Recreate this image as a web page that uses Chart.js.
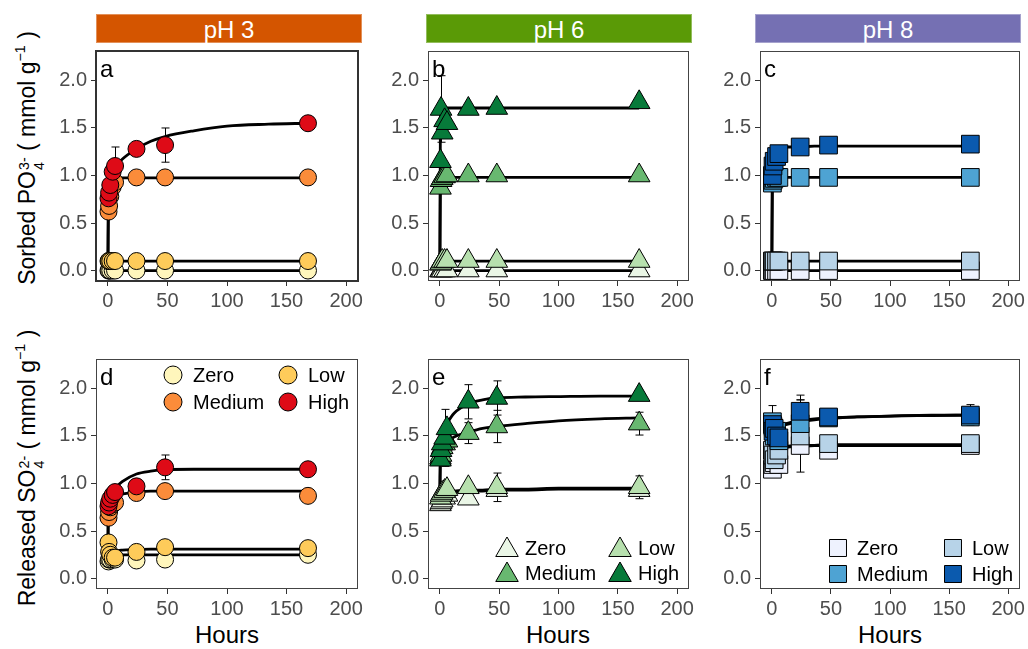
<!DOCTYPE html>
<html><head><meta charset="utf-8">
<script src="https://cdn.jsdelivr.net/npm/chart.js@4.4.1/dist/chart.umd.min.js"></script>
<style>
body{margin:0;background:#fff;}
#wrap{position:relative;width:1028px;height:649px;overflow:hidden;background:#fff;font-family:"Liberation Sans",Arial,sans-serif;}
.strip{position:absolute;top:14px;height:29px;color:#fff;font-size:24px;line-height:29px;text-align:center;box-sizing:border-box;border:1px solid rgba(255,255,255,0.35);}
canvas{position:absolute;}
.ytitle{position:absolute;font-size:23px;white-space:nowrap;transform:translate(-50%,-50%) rotate(-90deg);color:#000;}
.xtitle{position:absolute;font-size:24px;transform:translateX(-50%);color:#000;white-space:nowrap;}
.ss{display:inline-flex;flex-direction:column;font-size:0.62em;line-height:1.05;vertical-align:0.42em;margin-left:1px;}
.sp{font-size:0.62em;vertical-align:0.7em;}
</style>
</head><body>
<div id="wrap">
  <div class="strip" style="left:96px;width:266px;background:#D45500;">pH 3</div>
  <div class="strip" style="left:426px;width:266px;background:#5A9A06;">pH 6</div>
  <div class="strip" style="left:755px;width:266px;background:#7570B3;">pH 8</div>
  <div class="ytitle" style="left:29px;top:158px;">Sorbed PO<span class="ss"><span>3-</span><span>4</span></span> ( mmol g<span class="sp">−1</span> )</div>
  <div class="ytitle" style="left:29px;top:468px;">Released SO<span class="ss"><span>2-</span><span>4</span></span> ( mmol g<span class="sp">−1</span> )</div>
  <div class="xtitle" style="left:227px;top:621px;">Hours</div>
  <div class="xtitle" style="left:558px;top:621px;">Hours</div>
  <div class="xtitle" style="left:890px;top:621px;">Hours</div>
</div>
<script>
// ---------- data ----------
const levels = ['Zero', 'Low', 'Medium', 'High'];
const hours = [0.5, 1, 2, 4, 6, 24, 48, 168];
const curveHours = [0, 0.5, 1, 2, 4, 6, 12, 24, 36, 48, 72, 100, 135, 168];
const xTicks = [0, 50, 100, 150, 200];
const yTicks = [0, 0.5, 1, 1.5, 2];

// (a) sorbed PO4, pH 3
const aZero = [0, 0, 0, 0, 0, 0, 0, 0];
const aLow = [0.1, 0.1, 0.1, 0.1, 0.1, 0.1, 0.1, 0.1];
const aMedium = [0.62, 0.68, 0.78, 0.88, 0.93, 0.98, 0.98, 0.98];
const aHigh = [0.76, 0.82, 0.9, 1.04, 1.1, 1.28, 1.32, 1.55];
const aHighErr = [0, 0, 0, 0, 0.2, 0, 0.18, 0];
const aZeroFit = [0, 0, 0, 0, 0, 0, 0, 0, 0, 0, 0, 0, 0, 0];
const aLowFit = [0, 0.1, 0.1, 0.1, 0.1, 0.1, 0.1, 0.1, 0.1, 0.1, 0.1, 0.1, 0.1, 0.1];
const aMediumFit = [0, 0.9, 0.94, 0.96, 0.97, 0.975, 0.975, 0.975, 0.975, 0.975, 0.975, 0.975, 0.975, 0.975];
const aHighFit = [0, 0.85, 0.92, 0.98, 1.04, 1.08, 1.17, 1.28, 1.36, 1.41, 1.47, 1.52, 1.54, 1.55];

// (b) sorbed PO4, pH 6
const bZero = [0, 0, 0, 0, 0, 0, 0, 0];
const bLow = [0.07, 0.08, 0.1, 0.1, 0.1, 0.1, 0.1, 0.1];
const bMedium = [0.87, 0.95, 0.97, 0.99, 1.0, 1.0, 1.0, 1.0];
const bHigh = [1.15, 1.7, 1.45, 1.58, 1.55, 1.7, 1.71, 1.77];
const bHighErr = [0, 0.35, 0, 0, 0, 0.03, 0, 0];
const bZeroFit = [0, 0, 0, 0, 0, 0, 0, 0, 0, 0, 0, 0, 0, 0];
const bLowFit = [0, 0.1, 0.1, 0.1, 0.1, 0.1, 0.1, 0.1, 0.1, 0.1, 0.1, 0.1, 0.1, 0.1];
const bMediumFit = [0, 0.97, 0.98, 0.98, 0.98, 0.98, 0.98, 0.98, 0.98, 0.98, 0.98, 0.98, 0.98, 0.98];
const bHighFit = [0, 1.68, 1.7, 1.71, 1.71, 1.71, 1.71, 1.71, 1.71, 1.71, 1.71, 1.71, 1.71, 1.71];

// (c) sorbed PO4, pH 8
const cZero = [0, 0, 0, 0, 0, 0, 0, 0];
const cLow = [0.1, 0.1, 0.1, 0.1, 0.1, 0.1, 0.1, 0.1];
const cMedium = [0.92, 0.95, 0.97, 0.98, 0.98, 0.98, 0.98, 0.98];
const cHigh = [1.0, 1.1, 1.15, 1.2, 1.23, 1.3, 1.32, 1.33];
const cHighErr = [0, 0, 0, 0, 0, 0, 0, 0.07];
const cZeroFit = [0, 0, 0, 0, 0, 0, 0, 0, 0, 0, 0, 0, 0, 0];
const cLowFit = [0, 0.1, 0.1, 0.1, 0.1, 0.1, 0.1, 0.1, 0.1, 0.1, 0.1, 0.1, 0.1, 0.1];
const cMediumFit = [0, 0.96, 0.97, 0.98, 0.98, 0.98, 0.98, 0.98, 0.98, 0.98, 0.98, 0.98, 0.98, 0.98];
const cHighFit = [0, 1.2, 1.23, 1.26, 1.28, 1.29, 1.3, 1.3, 1.31, 1.31, 1.31, 1.31, 1.31, 1.31];

// (d) released SO4, pH 3
const dZero = [0.18, 0.2, 0.2, 0.2, 0.2, 0.19, 0.2, 0.25];
const dLow = [0.38, 0.28, 0.25, 0.22, 0.22, 0.28, 0.33, 0.32];
const dMedium = [0.64, 0.7, 0.75, 0.78, 0.8, 0.9, 0.92, 0.87];
const dHigh = [0.76, 0.8, 0.84, 0.88, 0.91, 0.97, 1.17, 1.15];
const dHighErr = [0, 0, 0, 0, 0, 0, 0.13, 0];
const dZeroFit = [0.2, 0.22, 0.23, 0.24, 0.245, 0.25, 0.25, 0.25, 0.25, 0.25, 0.25, 0.25, 0.25, 0.25];
const dLowFit = [0.22, 0.25, 0.26, 0.27, 0.28, 0.29, 0.3, 0.305, 0.31, 0.31, 0.31, 0.31, 0.31, 0.31];
const dMediumFit = [0.3, 0.8, 0.82, 0.84, 0.86, 0.87, 0.89, 0.91, 0.92, 0.92, 0.92, 0.92, 0.92, 0.92];
const dHighFit = [0.3, 0.84, 0.86, 0.88, 0.92, 0.95, 1.02, 1.1, 1.13, 1.145, 1.15, 1.15, 1.15, 1.15];

// (e) released SO4, pH 6
const eZero = [0.78, 0.8, 0.82, 0.85, 0.88, 0.84, 0.93, 0.93];
const eLow = [0.85, 0.88, 0.9, 0.92, 0.94, 0.96, 0.96, 0.96];
const eLowErr = [0, 0, 0, 0, 0, 0, 0.15, 0.12];
const eMedium = [1.27, 1.3, 1.38, 1.42, 1.45, 1.53, 1.6, 1.63];
const eMediumErr = [0, 0, 0, 0, 0, 0.11, 0.17, 0.12];
const eHigh = [1.25, 1.35, 1.42, 1.48, 1.58, 1.86, 1.9, 1.93];
const eHighErr = [0, 0, 0, 0.3, 0, 0.18, 0.18, 0];
const eZeroFit = [0.8, 0.86, 0.88, 0.89, 0.9, 0.9, 0.91, 0.92, 0.92, 0.93, 0.93, 0.94, 0.94, 0.94];
const eLowFit = [0.85, 0.88, 0.89, 0.9, 0.91, 0.91, 0.92, 0.93, 0.93, 0.94, 0.94, 0.95, 0.95, 0.95];
const eMediumFit = [0.9, 1.3, 1.33, 1.37, 1.41, 1.44, 1.49, 1.54, 1.58, 1.6, 1.63, 1.66, 1.68, 1.69];
const eHighFit = [0.9, 1.35, 1.42, 1.5, 1.58, 1.63, 1.74, 1.84, 1.88, 1.9, 1.91, 1.915, 1.92, 1.92];

// (f) released SO4, pH 8
const fZero = [1.15, 1.2, 1.22, 1.25, 1.2, 1.4, 1.35, 1.4];
const fLow = [1.35, 1.3, 1.25, 1.3, 1.35, 1.5, 1.42, 1.42];
const fLowErr = [0, 0, 0, 0, 0, 0.38, 0, 0];
const fMedium = [1.65, 1.6, 1.5, 1.55, 1.45, 1.63, 1.69, 1.7];
const fMediumErr = [0, 0, 0, 0, 0, 0.25, 0, 0];
const fHigh = [1.62, 1.55, 1.58, 1.5, 1.48, 1.76, 1.7, 1.72];
const fHighErr = [0.2, 0, 0, 0, 0, 0.17, 0, 0.11];
const fZeroFit = [1.25, 1.33, 1.35, 1.36, 1.37, 1.37, 1.38, 1.39, 1.4, 1.4, 1.4, 1.4, 1.4, 1.4];
const fLowFit = [1.3, 1.35, 1.36, 1.37, 1.37, 1.38, 1.39, 1.4, 1.4, 1.41, 1.41, 1.41, 1.41, 1.41];
const fMediumFit = [1.45, 1.55, 1.56, 1.57, 1.58, 1.6, 1.62, 1.65, 1.67, 1.685, 1.7, 1.71, 1.715, 1.72];
const fHighFit = [1.5, 1.56, 1.57, 1.58, 1.59, 1.6, 1.63, 1.66, 1.68, 1.69, 1.7, 1.71, 1.72, 1.72];

// ---------- styles ----------
const FONT = '"Liberation Sans", Arial, sans-serif';
const circleColors = ['#FFF6BC', '#FECB5A', '#FB8C3A', '#DE0B17'];
const triColors = ['#EAF6E6', '#B7E0AE', '#68B870', '#077A3A'];
const sqColors = ['#EEF2FE', '#B7D3E8', '#4EA3D3', '#0B5AAE'];

const panels = [
  {letter:'a', left:96, top:49, w:262, h:232, shape:'circle', r:8.5, colors:circleColors, border:2, bcol:'#333',
   vals:[aZero,aLow,aMedium,aHigh], errs:[null,null,null,aHighErr], fits:[aZeroFit,aLowFit,aMediumFit,aHighFit]},
  {letter:'b', left:428, top:49, w:261, h:232, shape:'triangle', r:12.5, colors:triColors, border:1, bcol:'#444',
   vals:[bZero,bLow,bMedium,bHigh], errs:[null,null,null,bHighErr], fits:[bZeroFit,bLowFit,bMediumFit,bHighFit]},
  {letter:'c', left:760, top:49, w:260, h:232, shape:'rect', r:12.5, colors:sqColors, border:1, bcol:'#444',
   vals:[cZero,cLow,cMedium,cHigh], errs:[null,null,null,cHighErr], fits:[cZeroFit,cLowFit,cMediumFit,cHighFit]},
  {letter:'d', left:96, top:357, w:262, h:232, shape:'circle', r:8.5, colors:circleColors, border:1, bcol:'#444',
   vals:[dZero,dLow,dMedium,dHigh], errs:[null,null,null,dHighErr], fits:[dZeroFit,dLowFit,dMediumFit,dHighFit],
   legend:{x0:77, x1:192, y0:16, y1:43, tx:20}},
  {letter:'e', left:428, top:357, w:261, h:232, shape:'triangle', r:12.5, colors:triColors, border:1, bcol:'#444',
   vals:[eZero,eLow,eMedium,eHigh], errs:[null,eLowErr,eMediumErr,eHighErr], fits:[eZeroFit,eLowFit,eMediumFit,eHighFit],
   legend:{x0:79, x1:192, y0:189, y1:214, tx:18}},
  {letter:'f', left:760, top:357, w:260, h:232, shape:'rect', r:12.5, colors:sqColors, border:1, bcol:'#444',
   vals:[fZero,fLow,fMedium,fHigh], errs:[null,fLowErr,fMediumErr,fHighErr], fits:[fZeroFit,fLowFit,fMediumFit,fHighFit],
   legend:{x0:78, x1:193, y0:189, y1:215, tx:19}}
];

function drawShape(ctx, shape, x, y, r, fill) {
  ctx.beginPath();
  if (shape === 'circle') ctx.arc(x, y, r, 0, Math.PI * 2);
  else if (shape === 'triangle') {
    ctx.moveTo(x, y - r);
    ctx.lineTo(x + r * Math.sqrt(3) / 2, y + r / 2);
    ctx.lineTo(x - r * Math.sqrt(3) / 2, y + r / 2);
    ctx.closePath();
  } else {
    const s = r * Math.SQRT1_2;
    ctx.rect(x - s, y - s, 2 * s, 2 * s);
  }
  ctx.fillStyle = fill; ctx.fill();
  ctx.strokeStyle = '#000'; ctx.lineWidth = 1; ctx.stroke();
}

const deco = {
  id: 'deco',
  beforeDatasetsDraw(chart, args, o) {
    const ctx = chart.ctx, ys = chart.scales.y;
    ctx.save(); ctx.strokeStyle = '#000'; ctx.lineWidth = 1;
    chart.data.datasets.forEach((ds, i) => {
      if (!ds.err) return;
      const meta = chart.getDatasetMeta(i);
      ds.err.forEach((e, j) => {
        if (!e) return;
        const p = meta.data[j], v = ds.data[j].y;
        const x = Math.round(p.x) + 0.5;
        const y1 = ys.getPixelForValue(v - e), y2 = ys.getPixelForValue(v + e);
        ctx.beginPath();
        ctx.moveTo(x, y1); ctx.lineTo(x, y2);
        ctx.moveTo(x - 4, y1); ctx.lineTo(x + 4, y1);
        ctx.moveTo(x - 4, y2); ctx.lineTo(x + 4, y2);
        ctx.stroke();
      });
    });
    ctx.restore();
  },
  afterDraw(chart, args, o) {
    const ctx = chart.ctx, ca = chart.chartArea, p = o.panel;
    ctx.save();
    ctx.strokeStyle = p.bcol; ctx.lineWidth = p.border;
    const off = p.border % 2 ? 0.5 : 0;
    ctx.strokeRect(ca.left + off, ca.top + off, ca.right - ca.left - 2 * off, ca.bottom - ca.top - 2 * off);
    ctx.fillStyle = '#000';
    ctx.font = '24px ' + FONT;
    ctx.textBaseline = 'alphabetic'; ctx.textAlign = 'left';
    ctx.fillText(p.letter, ca.left + 4, ca.top + 26);
    if (p.legend) {
      const L = p.legend;
      const pos = [[L.x0, L.y0], [L.x1, L.y0], [L.x0, L.y1], [L.x1, L.y1]];
      ctx.font = '20px ' + FONT; ctx.textBaseline = 'middle';
      levels.forEach((lv, k) => {
        const x = ca.left + pos[k][0], y = ca.top + pos[k][1];
        const rr = p.shape === 'circle' ? 9 : (p.shape === 'triangle' ? 13 : 12);
        drawShape(ctx, p.shape, x, y + (p.shape === 'triangle' ? 2 : 0), rr, p.colors[k]);
        ctx.fillStyle = '#000';
        ctx.fillText(lv, x + L.tx, y + 1);
      });
    }
    ctx.restore();
  }
};

const YW = 60, XH = 36, PT = 14, PR = 26;
const wrap = document.getElementById('wrap');
panels.forEach(p => {
  const cv = document.createElement('canvas');
  const W = YW + p.w + PR, H = PT + p.h + XH;
  cv.width = W; cv.height = H;
  cv.style.left = (p.left - YW) + 'px'; cv.style.top = (p.top - PT) + 'px';
  cv.style.width = W + 'px'; cv.style.height = H + 'px';
  wrap.appendChild(cv);
  const datasets = [];
  for (let k = 3; k >= 0; k--) {
    datasets.push({
      label: levels[k],
      data: hours.map((h, i) => ({x: h, y: p.vals[k][i]})),
      err: p.errs[k],
      showLine: false,
      pointStyle: p.shape, pointRadius: p.r, pointHoverRadius: p.r,
      pointBackgroundColor: p.colors[k], pointBorderColor: '#000', pointBorderWidth: 1,
      backgroundColor: p.colors[k], borderColor: '#000',
      clip: false, order: 3 - k
    });
  }
  for (let k = 0; k < 4; k++) {
    datasets.push({
      label: levels[k] + ' fit',
      data: curveHours.map((h, i) => ({x: h, y: p.fits[k][i]})),
      showLine: true, borderColor: '#000', borderWidth: 2.8, pointRadius: 0,
      cubicInterpolationMode: 'monotone', fill: false, clip: false, order: 10 + k
    });
  }
  new Chart(cv, {
    type: 'line',
    data: {datasets},
    options: {
      responsive: false, maintainAspectRatio: false, animation: false, devicePixelRatio: 1,
      events: [],
      layout: {padding: {top: PT, right: PR, left: 0, bottom: 0}},
      plugins: {legend: {display: false}, tooltip: {enabled: false}, deco: {panel: p}},
      scales: {
        x: {type: 'linear', min: -10, max: 210,
            afterBuildTicks: s => { s.ticks = xTicks.map(v => ({value: v})); },
            afterFit: s => { s.height = XH; },
            ticks: {color: '#4d4d4d', font: {size: 20, family: FONT}, padding: 3, maxRotation: 0, autoSkip: false,
                    callback: v => String(v)},
            grid: {drawOnChartArea: false, drawTicks: true, tickLength: 5, color: '#333', lineWidth: 1},
            border: {display: false}},
        y: {type: 'linear', min: -0.11, max: 2.31,
            afterBuildTicks: s => { s.ticks = yTicks.map(v => ({value: v})); },
            afterFit: s => { s.width = YW; },
            ticks: {color: '#4d4d4d', font: {size: 20, family: FONT}, padding: 4, autoSkip: false,
                    callback: v => Number(v).toFixed(1)},
            grid: {drawOnChartArea: false, drawTicks: true, tickLength: 5, color: '#333', lineWidth: 1},
            border: {display: false}}
      }
    },
    plugins: [deco]
  });
});
</script>
</body></html>
